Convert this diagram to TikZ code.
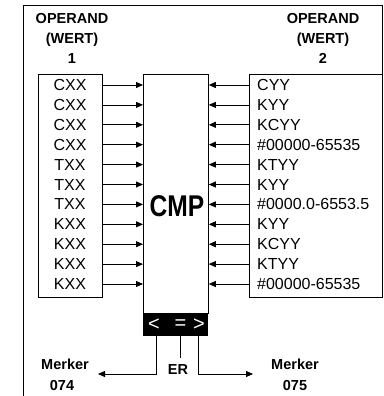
\documentclass[tikz,border=0pt]{standalone}
\usepackage{fontspec}
\setmainfont{Liberation Sans}
\usetikzlibrary{arrows.meta}
\begin{document}
\begin{tikzpicture}[x=1pt,y=-1pt,
  frame/.style={line width=0.8pt, draw=black},
  box/.style={draw, line width=0.8pt, inner sep=0pt, anchor=north west},
  hdr/.style={font=\bfseries\fontsize{14.5}{16}\selectfont, inner sep=0pt},
  ltxt/.style={font=\fontsize{16}{18}\selectfont, inner sep=0pt},
  rtxt/.style={font=\fontsize{16}{18}\selectfont, inner sep=0pt, anchor=west},
  bartxt/.style={font=\fontsize{20}{20}\selectfont, text=white, inner sep=0pt},
  arr/.style={line width=0.8pt, -{Triangle[length=7pt,width=6pt]}},
]
\useasboundingbox (0,0) rectangle (383,396);
% outer frame
\draw[frame] (23,396) -- (23,5) -- (382,5) -- (382,74);
% headers
\node[hdr] (h1a) at (72,19) {OPERAND};
\node[hdr] (h1b) at (72,40) {(WERT)};
\node[hdr] (h1c) at (72,58.5) {1};
\node[hdr] (h2a) at (323,19) {OPERAND};
\node[hdr] (h2b) at (323,40) {(WERT)};
\node[hdr] (h2c) at (323,58.5) {2};
% boxes
\node[box, minimum width=64pt, minimum height=223pt] (lbox) at (38,74) {};
\node[box, minimum width=133pt, minimum height=223pt] (rbox) at (249,74) {};
\node[box, minimum width=65pt, minimum height=239pt] (cmp) at (143,74) {};
\node[anchor=north west, fill=black, minimum width=65pt, minimum height=23pt, inner sep=0pt] (bar) at (143,313) {};
\node[inner sep=0pt, font=\bfseries\fontsize{30}{30}\selectfont] (cmptxt) at (177,206) {\scalebox{0.82}[1]{CMP}};
\node[bartxt] (lt) at (154,325) {<};
\node[bartxt] (eq) at (180.5,325) {=};
\node[bartxt] (gt) at (199,325) {>};
% rows
\foreach \t [count=\i] in {CXX,CXX,CXX,CXX,TXX,TXX,TXX,KXX,KXX,KXX,KXX}{
  \node[ltxt] (l\i) at (70,{85+19.9*(\i-1)}) {\t};
  \draw[arr] (lbox.east |- l\i) -- (cmp.west |- l\i);
}
\foreach \t [count=\i] in {CYY,KYY,KCYY,\#00000-65535,KTYY,KYY,\#0000.0-6553.5,KYY,KCYY,KTYY,\#00000-65535}{
  \node[rtxt] (r\i) at (257,{85+19.9*(\i-1)}) {\t};
  \draw[arr] (rbox.west |- r\i) -- (cmp.east |- r\i);
}
% outputs
\coordinate (t1) at (156,374);
\coordinate (t2) at (198,374);
\coordinate (e1) at (98,374);
\coordinate (e2) at (253,374);
\coordinate (e3) at (180,358);
\draw[arr] (bar.south -| t1) -- (t1) -- (e1);
\draw[arr] (bar.south -| t2) -- (t2) -- (e2);
\draw[frame] (bar.south -| e3) -- (e3);
\node[hdr] (er) at (178,370) {ER};
\node[hdr] (m1) at (65,364.5) {Merker};
\node[hdr] (n1) at (62,386) {074};
\node[hdr] (m2) at (295,364.5) {Merker};
\node[hdr] (n2) at (295,386) {075};
\end{tikzpicture}
\end{document}
